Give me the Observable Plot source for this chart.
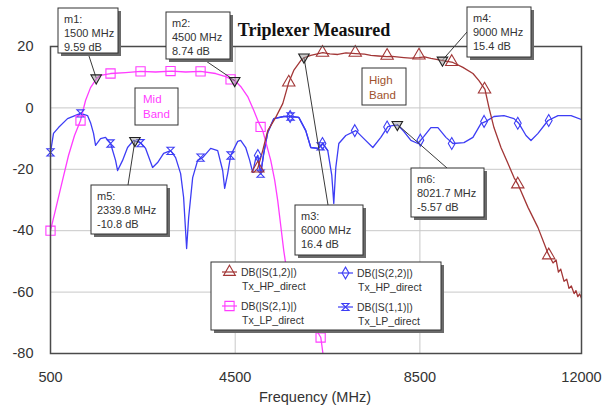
<!DOCTYPE html>
<html><head><meta charset="utf-8">
<script src="https://cdn.jsdelivr.net/npm/d3@7"></script>
<script src="https://cdn.jsdelivr.net/npm/@observablehq/plot@0.6"></script>
<style>
body{margin:0;background:#fff;}
#chart{position:relative;width:603px;height:412px;}
</style></head><body><div id="chart"></div>
<script>
// ---------- data ----------
const xTicks = [500, 4500, 8500, 12000];
const yTicks = [20, 0, -20, -40, -60, -80];
const xGrid = [4500, 8500];
const yGrid = [0, -20, -40, -60];

// DB(|S(2,1)|) Tx_LP_direct (magenta)
const s21Freq = [500,630,760,890,1020,1150,1259,1367,1500,1584,1801,2126,2451,2776,3123,3427,3752,4077,4294,4500,4619,4771,4901,5009,5096,5183,5270,5356,5421,5486,5551,5616,5703,5920,6137,6354,6400];
const s21DB   = [-40,-31.8,-23.6,-15.5,-9.0,-4.1,2.4,6.6,9.59,10.6,11.2,11.5,11.9,11.7,12.0,11.7,11.9,11.2,10.2,8.74,7.0,3.7,-0.8,-4.8,-7.4,-12.2,-17.1,-23.6,-30.2,-38.3,-46.4,-53.0,-57.8,-64.4,-69.2,-74.8,-80];
const s21MarkF  = [500,1150,1800,2450,3100,3750,4400,5050,6350];
const s21MarkDB = [-40,-4.1,11.2,11.9,12.0,11.9,9.3,-6.2,-74.8];

// DB(|S(1,2)|) Tx_HP_direct (brown)
const s12Freq = [4901,4988,5096,5205,5378,5530,5660,5768,5920,6000,6137,6397,6550,6722,6900,7112,7300,7438,7600,7784,7900,8153,8300,8478,8600,8738,9000,9215,9432,9649,9779,9909,9996,10104,10256,10408,10538,10624,10841,11058,11275,11384,11450,11500,11550,11622,11680,11730,11780,11840,11880,11920,11960,12000];
const s12DB   = [-21.0,-19.7,-13.9,-7.4,-3.1,1.4,8.3,12.2,15.4,16.4,17.1,18.0,17.6,17.4,17.9,17.7,17.5,17.1,16.9,16.7,16.8,16.4,16.2,16.4,16.6,16.1,15.4,14.8,13.2,11.2,8.9,6.0,0.1,-6.4,-12.9,-18.1,-22.7,-24.9,-32.4,-39.0,-47.4,-50.5,-49.5,-53.5,-52.5,-56.5,-55.8,-58.8,-58.0,-60.5,-59.5,-61.5,-60.6,-62.0];
const s12MarkF  = [4990,5660,6390,7100,7790,8480,9190,9900,10620,11290];
const s12MarkDB = [-19.7,8.3,18.0,18.0,17.0,17.1,15.0,6.0,-24.9,-48.0];

// DB(|S(1,1)|) Tx_LP_direct (blue, hourglass)
const s11Freq = [500,565,673,869,1150,1302,1367,1432,1476,1584,1692,1801,1909,1953,2061,2169,2300,2340,2451,2560,2711,2820,2950,3102,3210,3318,3383,3448,3492,3579,3687,3795,3969,4121,4229,4272,4337,4402,4554,4619,4728,4814,4879,4944,4988,5053,5118,5205,5335,5551,5703,5877,6028,6137,6289,6397,6505];
const s11DB   = [-14.5,-8.3,-6.4,-3.5,-1.8,-2.5,-4.8,-8.3,-12.2,-10.0,-9.6,-11.6,-17.1,-20.4,-17.1,-12.9,-10.6,-10.8,-11.3,-13.2,-19.4,-17.8,-14.8,-13.9,-16.2,-21.4,-29.2,-45.8,-35.7,-22.7,-17.1,-16.2,-13.2,-13.9,-20.4,-26.2,-21.4,-15.5,-10.9,-10.6,-12.9,-17.1,-21.0,-16.5,-15.5,-21.4,-14.8,-8.0,-3.5,-2.8,-2.8,-3.1,-7.4,-12.9,-13.2,-11.6,-13.9];
const s11MarkF  = [500,1150,1800,2450,3100,3750,4400,5050,5700,6350];
const s11MarkDB = [-14.5,-1.8,-11.6,-11.5,-14.0,-16.2,-15.5,-21.4,-2.8,-12.5];

// DB(|S(2,2)|) Tx_HP_direct (blue, diamond)
const s22Freq = [4988,5053,5118,5205,5335,5551,5703,5877,6028,6137,6289,6397,6505,6592,6635,6679,6744,6896,7112,7286,7481,7654,7806,7900,8022,8150,8305,8457,8587,8738,8890,9064,9215,9454,9649,9822,9931,10104,10321,10538,10646,10798,10906,11058,11275,11492,11774,12000];
const s22DB   = [-15.5,-21.4,-14.8,-8.0,-3.5,-2.8,-2.8,-3.1,-7.4,-12.9,-13.2,-11.6,-13.9,-22.0,-31.1,-19.4,-11.6,-9.0,-7.4,-10.0,-12.9,-9.6,-6.1,-5.8,-5.57,-7.6,-10.6,-11.6,-9.3,-6.4,-6.4,-9.6,-11.6,-11.3,-9.6,-5.1,-4.4,-2.8,-2.5,-3.5,-5.1,-9.0,-10.6,-8.3,-4.1,-2.5,-2.5,-3.8];
const s22MarkF  = [4990,5690,6390,7090,7790,8510,9190,9890,10620,11290];
const s22MarkDB = [-15.5,-2.8,-11.6,-7.4,-6.2,-10.5,-11.6,-4.4,-5.0,-4.1];

// marker readouts
const mNames = ["m1","m2","m3","m4","m5","m6"];
const mFreq  = [1500, 4500, 6000, 9000, 2339.8, 8021.7];
const mDB    = [9.59, 8.74, 16.4, 15.4, -10.8, -5.57];
const mFreqLabel = ["1500 MHz","4500 MHz","6000 MHz","9000 MHz","2339.8 MHz","8021.7 MHz"];
const mDBLabel   = ["9.59 dB","8.74 dB","16.4 dB","15.4 dB","-10.8 dB","-5.57 dB"];

const legendNames = ["DB(|S(1,2)|)","DB(|S(2,2)|)","DB(|S(2,1)|)","DB(|S(1,1)|)"];
const legendSub   = ["Tx_HP_direct","Tx_HP_direct","Tx_LP_direct","Tx_LP_direct"];

// ---------- build ----------
const MAG = "#ff3cff", BRN = "#a23636", BLU = "#3d3df5", BANDTXT = "#a0522d";
const tbl = (F, D) => F.map((f, i) => ({f, db: D[i]}));
const s21 = tbl(s21Freq, s21DB), s12 = tbl(s12Freq, s12DB), s11 = tbl(s11Freq, s11DB), s22 = tbl(s22Freq, s22DB);
const mk = mFreq.map((f, i) => ({f, db: mDB[i]}));

const hourglass = {draw(ctx, size){ const r = Math.sqrt(size/Math.PI); ctx.moveTo(-r,-r); ctx.lineTo(r,-r); ctx.lineTo(-r,r); ctx.lineTo(r,r); ctx.closePath(); }};

const lineOpts = (c) => ({x:"f", y:"db", stroke:c, strokeWidth:1.3, clip:true});
const plot = Plot.plot({
  width:603, height:412, marginTop:46, marginRight:22, marginBottom:59, marginLeft:50,
  x:{domain:[500,12000]}, y:{domain:[-80,20]},
  style:{fontFamily:"'Liberation Sans', Arial, sans-serif", fontSize:"14px", color:"#333", background:"#fff"},
  marks:[
    Plot.gridX(xGrid, {stroke:"#c8c8c8", strokeOpacity:1}),
    Plot.gridY(yGrid, {stroke:"#c8c8c8", strokeOpacity:1}),
    Plot.axisX(xTicks, {tickSize:0, tickPadding:18, label:null, tickFormat:d=>String(d), fontSize:14.5}),
    Plot.axisY(yTicks, {tickSize:0, tickPadding:17, label:null, tickFormat:d=>String(d), fontSize:14.5}),
    Plot.line(s11, lineOpts(BLU)),
    Plot.line(s22, lineOpts(BLU)),
    Plot.line(s21, lineOpts(MAG)),
    Plot.line(s12, lineOpts(BRN)),
    Plot.dot(tbl(s11MarkF, s11MarkDB), {x:"f", y:"db", symbol:hourglass, r:3.6, stroke:BLU, fill:"none", strokeWidth:1.1}),
    Plot.dot(tbl(s22MarkF, s22MarkDB), {x:"f", y:"db", symbol:"diamond", r:3.6, stroke:BLU, fill:"none", strokeWidth:1.1}),
    Plot.dot(tbl(s21MarkF, s21MarkDB), {x:"f", y:"db", symbol:"square", r:5.2, stroke:MAG, fill:"none", strokeWidth:1.1}),
    Plot.dot(tbl(s12MarkF, s12MarkDB), {x:"f", y:"db", symbol:"triangle", r:4.6, stroke:BRN, fill:"none", strokeWidth:1.1}),
    Plot.frame({stroke:"#4a4a4a", strokeWidth:1.5})
  ]
});
document.getElementById("chart").appendChild(plot);

// ---------- annotations ----------
const svg = d3.select(plot);
const xs = plot.scale("x"), ys = plot.scale("y");
const g = svg.append("g").attr("text-anchor","start");

// title
g.append("text").attr("x", 314).attr("y", 36).attr("text-anchor","middle")
  .attr("font-family","'Liberation Serif', 'Times New Roman', serif").attr("font-weight","bold")
  .attr("font-size", 18).attr("fill","#111").text("Triplexer Measured");
// x label
g.append("text").attr("x", 315).attr("y", 402).attr("text-anchor","middle")
  .attr("font-size", 14.5).attr("fill","#333").text("Frequency (MHz)");

// marker boxes layout: [left, top, width, height, leaderX, leaderY]
const boxLayout = [
  [58, 8, 60, 45, 88, 53],
  [166, 12, 64, 47, 203, 59],
  [295, 205, 68, 50, 328, 205],
  [467, 7, 64, 50, 467, 32],
  [91, 185, 76, 49, 128, 185],
  [411, 168, 73, 49, 447, 168]
];
// leaders
boxLayout.forEach((b, i) => {
  g.append("line").attr("x1", xs.apply(mFreq[i])).attr("y1", ys.apply(mDB[i]))
    .attr("x2", b[4]).attr("y2", b[5]).attr("stroke","#3a3a3a").attr("stroke-width",1);
});
// marker symbols
const tri = d3.symbol(d3.symbolTriangle, 48)();
mk.forEach(d => {
  g.append("path").attr("d", tri).attr("transform", `translate(${xs.apply(d.f)},${ys.apply(d.db)}) rotate(180)`)
    .attr("fill","#999").attr("fill-opacity",0.5).attr("stroke","#222").attr("stroke-width",1.1);
});
function box(x, y, w, h, shadow) {
  if (shadow) g.append("rect").attr("x", x+3).attr("y", y+3).attr("width", w).attr("height", h).attr("fill","#6a6a6a");
  g.append("rect").attr("x", x).attr("y", y).attr("width", w).attr("height", h).attr("fill","#fff").attr("stroke","#333").attr("stroke-width",1);
}
boxLayout.forEach((b, i) => {
  box(b[0], b[1], b[2], b[3], true);
  const lines = [mNames[i] + ":", mFreqLabel[i], mDBLabel[i]];
  lines.forEach((t, j) => {
    g.append("text").attr("x", b[0]+6).attr("y", b[1]+14.5+j*14.3).attr("font-size", 11).attr("fill","#333").text(t);
  });
});

// band boxes
box(135, 88, 43, 37, false);
g.append("text").attr("x",143).attr("y",103).attr("font-size",11.5).attr("fill",MAG).text("Mid");
g.append("text").attr("x",143).attr("y",118).attr("font-size",11.5).attr("fill",MAG).text("Band");
box(362, 68, 44, 37, false);
g.append("text").attr("x",369).attr("y",84).attr("font-size",11.5).attr("fill",BANDTXT).text("High");
g.append("text").attr("x",369).attr("y",99).attr("font-size",11.5).attr("fill",BANDTXT).text("Band");

// legend
box(211, 262, 230, 68, true);
const legColors = [BRN, BLU, MAG, BLU];
const legSym = [d3.symbol(d3.symbolTriangle, 60)(), d3.symbol(d3.symbolDiamond, 40)(), d3.symbol(d3.symbolSquare, 85)(), d3.symbol(hourglass, 40)()];
const legPos = [[222, 272], [338, 273], [222, 306], [338, 307]];
legPos.forEach((p, i) => {
  g.append("line").attr("x1", p[0]).attr("x2", p[0]+15).attr("y1", p[1]).attr("y2", p[1]).attr("stroke", legColors[i]).attr("stroke-width",1.2);
  g.append("path").attr("d", legSym[i]).attr("transform", `translate(${p[0]+7.5},${p[1]})`).attr("fill","none").attr("stroke",legColors[i]).attr("stroke-width",1.1);
  g.append("text").attr("x", p[0]+19).attr("y", p[1]+4).attr("font-size",10.5).attr("fill","#333").text(legendNames[i]);
  g.append("text").attr("x", p[0]+20).attr("y", p[1]+18).attr("font-size",10.5).attr("fill","#333").text(legendSub[i]);
});
</script></body></html>
